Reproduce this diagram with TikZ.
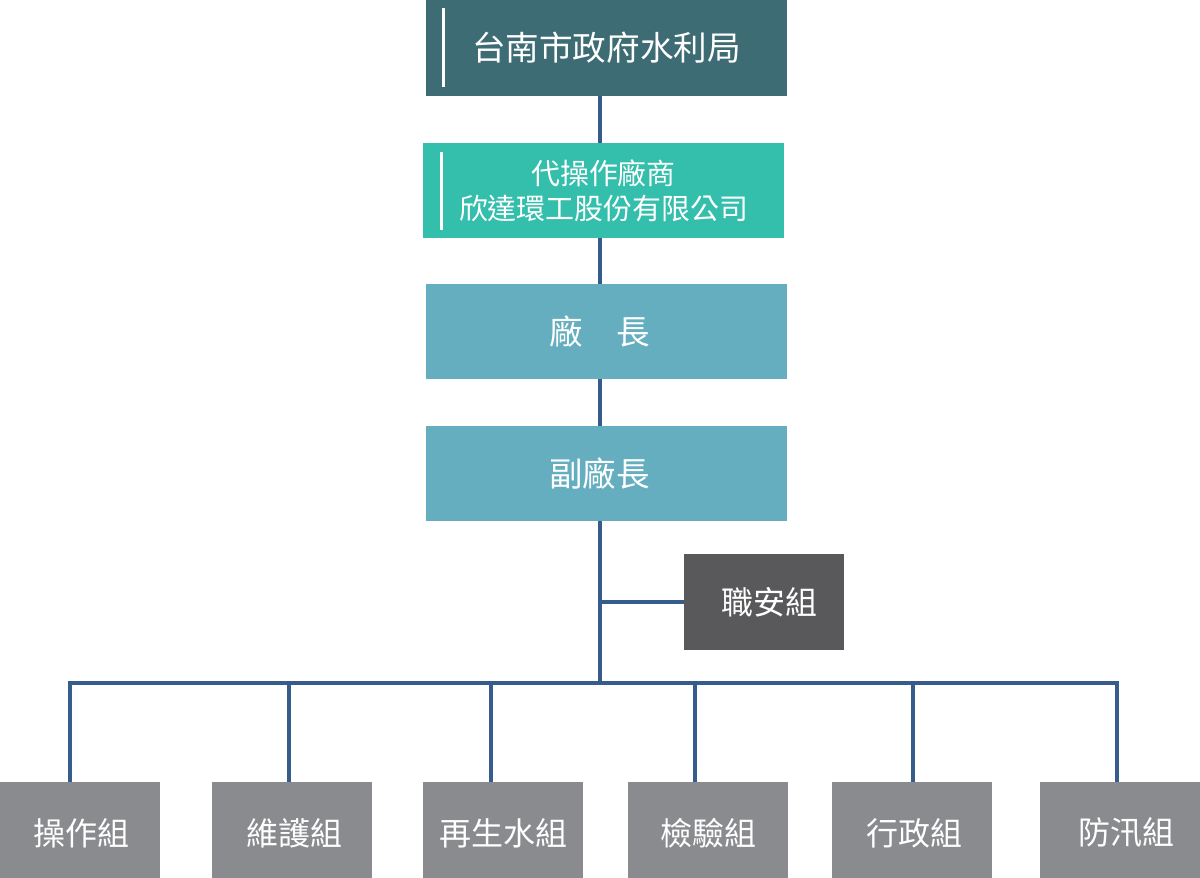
\documentclass[tikz,border=0pt]{standalone}
\usepackage{fontspec}
\setmainfont{Noto Sans CJK TC}
\definecolor{cTop}{RGB}{62,108,116}
\definecolor{cSub}{RGB}{52,190,172}
\definecolor{cMgr}{RGB}{100,174,191}
\definecolor{cSafe}{RGB}{89,89,91}
\definecolor{cGrp}{RGB}{138,139,142}
\definecolor{cLine}{RGB}{54,92,140}
\tikzset{
  box/.style={rectangle, inner sep=0pt, text=white, align=center, minimum width=361pt, minimum height=95pt},
  grpbox/.style={rectangle, inner sep=0pt, fill=cGrp, minimum width=160pt, minimum height=96pt},
  lbl/.style={inner sep=0pt, text=white, font=\fontsize{32}{36}\selectfont},
  conn/.style={draw=cLine, line width=3.5pt, line join=miter},
  whitebar/.style={draw=white, line width=3pt}
}
\begin{document}
\begin{tikzpicture}[x=1pt, y=-1pt]
\useasboundingbox (0,0) rectangle (1200,878);
\fill[white] (0,0) rectangle (1200,878);
% nodes
\node[box, fill=cTop, minimum height=96pt, font=\fontsize{33.6}{38}\selectfont] (top) at (606.5,48) {台南市政府水利局};
\node[box, fill=cSub, font=\fontsize{28.9}{37}\selectfont] (sub) at (603.5,190.5) {代操作廠商\\[-2pt]欣達環工股份有限公司};
\node[box, fill=cMgr, font=\fontsize{33.5}{38}\selectfont] (mgr) at (606.5,331.5) {廠　長\hspace{14pt}};
\node[box, fill=cMgr, font=\fontsize{33.5}{38}\selectfont] (dep) at (606.5,473.5) {副廠長\hspace{14pt}};
\node[rectangle, inner sep=0pt, fill=cSafe, text=white, minimum width=160pt, minimum height=96pt, font=\fontsize{32}{36}\selectfont] (safe) at (764,602) {\hspace{10pt}職安組};
\node[grpbox] (g1) at (80,830) {};
\node[grpbox] (g2) at (292,830) {};
\node[grpbox] (g3) at (503,830) {};
\node[grpbox] (g4) at (708,830) {};
\node[grpbox] (g5) at (912,830) {};
\node[grpbox] (g6) at (1120,830) {};
\node[lbl] (l1) at ([shift={(1.5,3)}]g1.center) {操作組};
\node[lbl] (l2) at ([shift={(2,3)}]g2.center) {維護組};
\node[lbl] (l3) at ([shift={(0.5,3)}]g3.center) {再生水組};
\node[lbl] (l4) at ([shift={(0.5,3)}]g4.center) {檢驗組};
\node[lbl] (l5) at ([shift={(2,3)}]g5.center) {行政組};
\node[lbl] (l6) at ([shift={(6,3)}]g6.center) {防汛組};
% white accent bars
\draw[whitebar] (443,8) -- (443,87);
\draw[whitebar] (441,152) -- (441,230);
% coordinates
\coordinate (spine) at (600,0);
\coordinate (j1) at (70,683);
\coordinate (j2) at (289,683);
\coordinate (j3) at (491,683);
\coordinate (jc) at (600,683);
\coordinate (j4) at (695,683);
\coordinate (j5) at (913,683);
\coordinate (j6) at (1117,683);
% connectors
\draw[conn] (top.south -| spine) -- (sub.north -| spine);
\draw[conn] (sub.south -| spine) -- (mgr.north -| spine);
\draw[conn] (mgr.south -| spine) -- (dep.north -| spine);
\draw[conn] (dep.south -| spine) -- (jc);
\draw[conn] (safe.west -| spine) -- (safe.west);
\draw[conn] (g1.north -| j1) -- (j1) -- (j6) -- (g6.north -| j6);
\draw[conn] (j2) -- (g2.north -| j2);
\draw[conn] (j3) -- (g3.north -| j3);
\draw[conn] (j4) -- (g4.north -| j4);
\draw[conn] (j5) -- (g5.north -| j5);
\end{tikzpicture}
\end{document}
